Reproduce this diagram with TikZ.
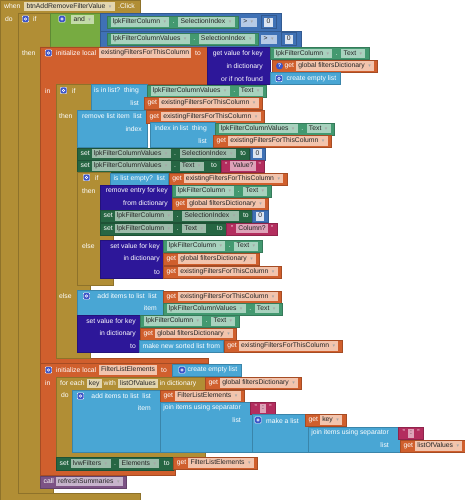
\documentclass[tikz,border=0pt]{standalone}
\usepackage{fontspec}
\setmainfont{Liberation Sans}
\newfontfamily\symf{DejaVu Sans}
\usepackage{xcolor}

\definecolor{ctrl}{HTML}{B18E35}
\definecolor{ctrlF}{HTML}{E3D6B0}
\definecolor{varc}{HTML}{D05F2D}
\definecolor{varF}{HTML}{F2C4AD}
\definecolor{logic}{HTML}{77AB41}
\definecolor{logicF}{HTML}{C3DBA9}
\definecolor{mathc}{HTML}{3F71B5}
\definecolor{mathF}{HTML}{B6CAE6}
\definecolor{numF}{HTML}{DCE5F2}
\definecolor{getc}{HTML}{439970}
\definecolor{getF}{HTML}{A8D2BE}
\definecolor{setc}{HTML}{266643}
\definecolor{setF}{HTML}{9DBCAA}
\definecolor{listc}{HTML}{49A6D4}
\definecolor{dictc}{HTML}{2D1799}
\definecolor{txtc}{HTML}{B32D5E}
\definecolor{txtF}{HTML}{DEA2B8}
\definecolor{proc}{HTML}{7C5385}
\definecolor{procF}{HTML}{C7B4CC}
\definecolor{gearc}{HTML}{3C55C8}

\newcommand{\dd}{\hspace{3.5pt}{\symf\fontsize{5}{5}\selectfont\textcolor{black!35}{▾}}\hspace{1pt}}
\newcommand{\fld}[2]{{\setlength{\fboxsep}{1.5pt}\colorbox{#1}{\hspace{0.8pt}\textcolor{black!85}{\vphantom{Ag}#2}\hspace{0.8pt}}}}
\newcommand{\dotsep}{\hspace{3.5pt}.\hspace{3.5pt}}
\newcommand{\tosep}{\hspace{4.5pt}to\hspace{2pt}}
\newcommand{\quoted}[1]{\hspace{1pt}"\hspace{3pt}\fld{txtF}{#1}\hspace{3pt}"\hspace{1pt}}

\tikzset{
  lbl/.style={anchor=west, inner sep=0pt, text=white},
  rlbl/.style={anchor=east, inner sep=0pt, text=white},
  vblk/.style={anchor=north west, fill=#1, draw=#1!80!black, line width=0.3pt,
    text=white, inner xsep=3.5pt, inner ysep=0pt, minimum height=12pt},
  sblk/.style={fill=#1, draw=#1!80!black, line width=0.3pt},
  gear/.style={fill=gearc, draw=white, line width=0.4pt, rounded corners=1pt,
    minimum size=6.5pt, inner sep=0pt,
    path picture={\draw[white, line width=0.6pt] (path picture bounding box.center) circle (1.3pt);}},
  qmark/.style={circle, fill=gearc, text=white, inner sep=0pt, minimum size=7pt,
    font=\fontsize{5.5}{6}\selectfont\bfseries}
}

\begin{document}
\begin{tikzpicture}[x=1pt,y=-1pt,font=\fontsize{6.8}{8}\selectfont]
  \useasboundingbox (0,0) rectangle (465,500);

  % when ... do
  \draw[sblk=ctrl] (0,0) -- (140,0) -- (140,13) -- (18,13) -- (18,493) -- (140,493) -- (140,500) -- (0,500) -- cycle;
  \node[lbl] (when) at (4,6.5) {when};
  \node[lbl] (evname) at (24,6.5) {\fld{ctrlF}{btnAddRemoveFilterValue\dd}};
  \node[lbl] (click) at (118,6.5) {.Click};
  \node[lbl] (do) at (5,19) {do};

  % if ... then
  \draw[sblk=ctrl] (18,13) -- (50,13) -- (50,47) -- (40,47) -- (40,487) -- (53,487) -- (53,493) -- (18,493) -- cycle;
  \node[gear] (gif1) at (25.5,19) {};
  \node[lbl] (if1) at (33,19) {if};
  \node[lbl] (then1) at (22,53) {then};

  % and
  \draw[sblk=logic] (50,13) rectangle (101,47);
  \node[gear] (gand) at (62,19) {};
  \node[lbl] (and) at (71,19.5) {\fld{logicF}{and\dd}};
  \draw[sblk=mathc] (100,13) rectangle (281,31);
  \node[vblk=getc] (cmp1a) at (107,16) {\fld{getF}{lpkFilterColumn\dd}\dotsep\fld{getF}{SelectionIndex\dd}};
  \node[lbl] (cmp1op) at ([xshift=2.5pt]cmp1a.east) {\fld{mathF}{>\dd}};
  \node[vblk=mathc, minimum height=13pt] (cmp1b) at ([xshift=4pt]cmp1op.east |- 0,15.5) {\fld{numF}{0}};
  \draw[sblk=mathc] (100,31) rectangle (301,47);
  \node[vblk=getc] (cmp2a) at (107,33) {\fld{getF}{lpkFilterColumnValues\dd}\dotsep\fld{getF}{SelectionIndex\dd}};
  \node[lbl] (cmp2op) at ([xshift=2.5pt]cmp2a.east) {\fld{mathF}{>\dd}};
  \node[vblk=mathc, minimum height=13pt] (cmp2b) at ([xshift=4pt]cmp2op.east |- 0,32.5) {\fld{numF}{0}};

  % initialize local existingFiltersForThisColumn
  \draw[sblk=varc] (40,47) -- (207,47) -- (207,84) -- (56,84) -- (56,358) -- (208,358) -- (208,363) -- (40,363) -- cycle;
  \node[gear] (ginit1) at (48.5,53) {};
  \node[lbl] (init1) at (56,53) {initialize local};
  \node[lbl] (init1name) at (98.5,53) {\fld{varF}{existingFiltersForThisColumn}};
  \node[lbl] (init1to) at (195,53) {to};
  \node[lbl] (in1) at (45,91) {in};
  \draw[sblk=dictc] (207,47) rectangle (270,84);
  \node[rlbl] (gvk) at (263,53.5) {get value for key};
  \node[rlbl] (gvkd) at (263,66.5) {in dictionary};
  \node[rlbl] (gvkn) at (263,79) {or if not found};
  \node[vblk=getc] (gvkkey) at (270,47.5) {\fld{getF}{lpkFilterColumn\dd}\dotsep\fld{getF}{Text\dd}};
  \node[vblk=varc] (gvkdict) at (272,60) {\hspace{9pt}get \fld{varF}{global filtersDictionary\dd}};
  \node[qmark] (warn) at (279.5,66) {?};
  \node[vblk=listc] (gvkempty) at (270,72.5) {\hspace{13pt}create empty list};
  \node[gear] (gempty1) at (279,78.5) {};

  % if is in list?
  \draw[sblk=ctrl] (56,84) -- (91,84) -- (91,110) -- (77,110) -- (77,285) -- (90,285) -- (90,290) -- (77,290) -- (77,352) -- (90,352) -- (90,358) -- (56,358) -- cycle;
  \node[gear] (gif2) at (63.5,90.5) {};
  \node[lbl] (if2) at (72,91) {if};
  \node[lbl] (then2) at (59,116) {then};
  \node[lbl] (else2) at (59,296) {else};
  \draw[sblk=listc] (91,84) rectangle (147,110);
  \node[rlbl] (inl) at (139,91) {is in list?\ \ thing};
  \node[rlbl] (inll) at (139,103) {list};
  \node[vblk=getc] (inlthing) at (147,85) {\fld{getF}{lpkFilterColumnValues\dd}\dotsep\fld{getF}{Text\dd}};
  \node[vblk=varc] (inllist) at (144,97) {get \fld{varF}{existingFiltersForThisColumn\dd}};

  % remove list item
  \draw[sblk=listc] (77,110) rectangle (147,147);
  \node[rlbl] (rli) at (142,116.5) {remove list item\ \ list};
  \node[rlbl] (rlii) at (142,129) {index};
  \node[vblk=varc] (rlilist) at (146,110.5) {get \fld{varF}{existingFiltersForThisColumn\dd}};
  \draw[sblk=listc] (150,122.5) rectangle (215,147);
  \node[rlbl] (iil) at (207,128.5) {index in list\ \ thing};
  \node[rlbl] (iill) at (207,141) {list};
  \node[vblk=getc] (iilthing) at (215,122.5) {\fld{getF}{lpkFilterColumnValues\dd}\dotsep\fld{getF}{Text\dd}};
  \node[vblk=varc] (iillist) at (213,135) {get \fld{varF}{existingFiltersForThisColumn\dd}};

  \node[vblk=setc] (setSI1) at (77,147.5) {set \fld{setF}{lpkFilterColumnValues\dd}\dotsep\fld{setF}{SelectionIndex\dd}\tosep};
  \node[vblk=mathc] (setSI1v) at (setSI1.north east) {\fld{numF}{0}};
  \node[vblk=setc] (setTx1) at (77,160) {set \fld{setF}{lpkFilterColumnValues\dd}\dotsep\fld{setF}{Text\dd}\hspace{3pt}\tosep};
  \node[vblk=txtc] (setTx1v) at (setTx1.north east) {\quoted{Value?}};

  % if is list empty?
  \draw[sblk=ctrl] (77,172) -- (110,172) -- (110,185) -- (100,185) -- (100,235) -- (113,235) -- (113,240) -- (100,240) -- (100,278) -- (113,278) -- (113,285) -- (77,285) -- cycle;
  \node[gear] (gif3) at (86.5,177.5) {};
  \node[lbl] (if3) at (95,178) {if};
  \node[lbl] (then3) at (82,191) {then};
  \node[lbl] (else3) at (82,246) {else};
  \node[vblk=listc] (empt) at (110,172.5) {is list empty?\ \ list};
  \node[vblk=varc] (emptl) at (empt.north east) {get \fld{varF}{existingFiltersForThisColumn\dd}};
  \draw[sblk=dictc] (100,185) rectangle (172,210);
  \node[rlbl] (rek) at (168,191) {remove entry for key};
  \node[rlbl] (red) at (168,203.5) {from dictionary};
  \node[vblk=getc] (rekk) at (172,185) {\fld{getF}{lpkFilterColumn\dd}\dotsep\fld{getF}{Text\dd}};
  \node[vblk=varc] (redd) at (172,197.5) {get \fld{varF}{global filtersDictionary\dd}};
  \node[vblk=setc] (setSI2) at (100,210) {set \fld{setF}{lpkFilterColumn\dd}\dotsep\fld{setF}{SelectionIndex\dd}\tosep};
  \node[vblk=mathc] (setSI2v) at (setSI2.north east) {\fld{numF}{0}};
  \node[vblk=setc] (setTx2) at (100,222.5) {set \fld{setF}{lpkFilterColumn\dd}\dotsep\fld{setF}{Text\dd}\hspace{6pt}\tosep};
  \node[vblk=txtc] (setTx2v) at (setTx2.north east) {\quoted{Column?}};
  \draw[sblk=dictc] (100,240) rectangle (163,278);
  \node[rlbl] (svk1) at (160,246.5) {set value for key};
  \node[rlbl] (svk1d) at (160,259) {in dictionary};
  \node[rlbl] (svk1t) at (160,272) {to};
  \node[vblk=getc] (svk1k) at (163,240) {\fld{getF}{lpkFilterColumn\dd}\dotsep\fld{getF}{Text\dd}};
  \node[vblk=varc] (svk1dd) at (163,253) {get \fld{varF}{global filtersDictionary\dd}};
  \node[vblk=varc] (svk1v) at (163,265.5) {get \fld{varF}{existingFiltersForThisColumn\dd}};

  % else of is in list?
  \draw[sblk=listc] (77,290) rectangle (163,315);
  \node[gear] (gadd1) at (86.5,296) {};
  \node[rlbl] (add1) at (157,296.5) {add items to list\ \ list};
  \node[rlbl] (add1i) at (157,308.5) {item};
  \node[vblk=varc] (add1l) at (163,290.5) {get \fld{varF}{existingFiltersForThisColumn\dd}};
  \node[vblk=getc] (add1it) at (163,302.5) {\fld{getF}{lpkFilterColumnValues\dd}\dotsep\fld{getF}{Text\dd}};
  \draw[sblk=dictc] (77,315) rectangle (140,352);
  \node[rlbl] (svk2) at (136,321.5) {set value for key};
  \node[rlbl] (svk2d) at (136,333.5) {in dictionary};
  \node[rlbl] (svk2t) at (136,346) {to};
  \node[vblk=getc] (svk2k) at (140,315) {\fld{getF}{lpkFilterColumn\dd}\dotsep\fld{getF}{Text\dd}};
  \node[vblk=varc] (svk2dd) at (140,327.5) {get \fld{varF}{global filtersDictionary\dd}};
  \node[vblk=listc] (svk2v) at (139,340) {make new sorted list from};
  \node[vblk=varc] (svk2vv) at (svk2v.north east) {get \fld{varF}{existingFiltersForThisColumn\dd}};

  % initialize local FilterListElements
  \draw[sblk=varc] (40,363) -- (172,363) -- (172,377) -- (56,377) -- (56,470) -- (175,470) -- (175,475) -- (40,475) -- cycle;
  \node[gear] (ginit2) at (48.5,370) {};
  \node[lbl] (init2) at (56,370) {initialize local};
  \node[lbl] (init2name) at (98.5,370) {\fld{varF}{FilterListElements}};
  \node[lbl] (init2to) at (161,370) {to};
  \node[vblk=listc] (init2v) at (172,364) {\hspace{12pt}create empty list};
  \node[gear] (gempty2) at (182,370) {};
  \node[lbl] (in2) at (45,383) {in};

  % for each key with listOfValues
  \draw[sblk=ctrl] (56,377) -- (205,377) -- (205,390) -- (72,390) -- (72,452) -- (205,452) -- (205,457) -- (56,457) -- cycle;
  \node[lbl] (fe) at (60,383.5) {for each \fld{ctrlF}{key} with \fld{ctrlF}{listOfValues} in dictionary};
  \node[vblk=varc] (fed) at (205,377) {get \fld{varF}{global filtersDictionary\dd}};
  \node[lbl] (fedo) at (61,395.5) {do};
  \draw[sblk=listc] (72,390) rectangle (160,452);
  \node[gear] (gadd2) at (80.5,396) {};
  \node[rlbl] (add2) at (151,396) {add items to list\ \ list};
  \node[rlbl] (add2i) at (151,408) {item};
  \node[vblk=varc] (add2l) at (160,390) {get \fld{varF}{FilterListElements\dd}};
  \draw[sblk=listc] (160,402) rectangle (252,452);
  \node[rlbl] (join1) at (241,408) {join items using separator};
  \node[rlbl] (join1l) at (241,420.5) {list};
  \node[vblk=txtc] (join1s) at (250,402) {\quoted{:}};
  \draw[sblk=listc] (252,414) rectangle (308,452);
  \node[gear] (gmk) at (258,420) {};
  \node[lbl] (mk) at (266,421) {make a list};
  \node[vblk=varc] (mkk) at (305,414) {get \fld{varF}{key\dd}};
  \draw[sblk=listc] (308,427) rectangle (400,452);
  \node[rlbl] (join2) at (389,433) {join items using separator};
  \node[rlbl] (join2l) at (389,445.5) {list};
  \node[vblk=txtc] (join2s) at (398,427) {\quoted{:}};
  \node[vblk=varc] (join2v) at (400,440) {get \fld{varF}{listOfValues\dd}};

  \node[vblk=setc, minimum height=13pt] (setEl) at (56,457) {set \fld{setF}{lvwFilters\dd}\dotsep\fld{setF}{Elements\dd}\tosep};
  \node[vblk=varc] (setElv) at (setEl.north east) {get \fld{varF}{FilterListElements\dd}};

  % call
  \node[vblk=proc] (call) at (40,475.5) {call \fld{procF}{refreshSummaries\dd}};
\end{tikzpicture}
\end{document}
